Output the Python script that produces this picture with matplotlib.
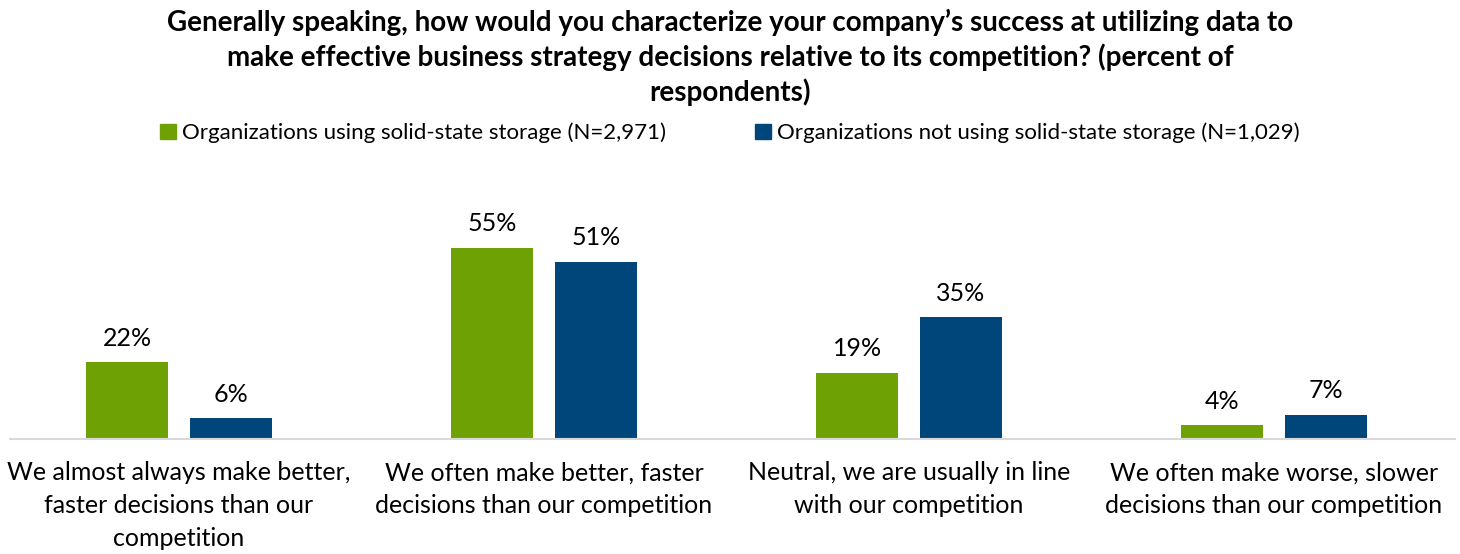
import matplotlib

matplotlib.use("Agg")

import matplotlib.pyplot as plt
import numpy as np
from matplotlib.patches import Patch

plt.rcParams["font.family"] = ["Lato", "DejaVu Sans"]

CATEGORIES = [
    "We almost always make better,\nfaster decisions than our\ncompetition",
    "We often make better, faster\ndecisions than our competition",
    "Neutral, we are usually in line\nwith our competition",
    "We often make worse, slower\ndecisions than our competition",
]
SERIES = [
    "Organizations using solid-state storage (N=2,971)",
    "Organizations not using solid-state storage (N=1,029)",
]
USING = [22, 55, 19, 4]
NOT_USING = [6, 51, 35, 7]

GREEN = "#6ea204"
BLUE = "#00467a"

W, H = 1460, 554
fig = plt.figure(figsize=(W / 100, H / 100), dpi=100)
ax = fig.add_axes([10 / W, (H - 439) / H, 1445 / W, 269 / H])

x = np.arange(len(CATEGORIES))
bw = 0.225
off = 0.142
b1 = ax.bar(x - off, USING, bw, color=GREEN)
b2 = ax.bar(x + off, NOT_USING, bw, color=BLUE)
for bars, vals in ((b1, USING), (b2, NOT_USING)):
    for rect, v in zip(bars, vals):
        ax.annotate(
            f"{v}%",
            xy=(rect.get_x() + rect.get_width() / 2, rect.get_height()),
            xytext=(0, 9),
            textcoords="offset points",
            ha="center",
            va="bottom",
            fontsize=18,
            color="#000000",
        )

ax.set_xlim(-0.463, 3.496)
ax.set_ylim(0, 77.3)
ax.set_yticks([])
ax.set_xticks(x)
ax.set_xticklabels(CATEGORIES, fontsize=18, linespacing=1.52)
ax.tick_params(axis="x", length=0, pad=16)
for s in ("top", "right", "left"):
    ax.spines[s].set_visible(False)
ax.spines["bottom"].set_color("#d9d9d9")
ax.spines["bottom"].set_linewidth(1.5)

fig.text(
    0.5,
    1 - 9 / H,
    "Generally speaking, how would you characterize your company\u2019s success at utilizing data to\n"
    "make effective business strategy decisions relative to its competition? (percent of\n"
    "respondents)",
    ha="center",
    va="top",
    fontsize=20,
    fontweight="bold",
    linespacing=1.33,
)

handles = [Patch(color=GREEN), Patch(color=BLUE)]
fig.legend(
    handles,
    SERIES,
    loc="center",
    bbox_to_anchor=(0.5, 1 - 133 / H),
    ncol=2,
    frameon=False,
    fontsize=16,
    handlelength=0.7,
    handleheight=0.7,
    handletextpad=0.3,
    columnspacing=4,
)

fig.savefig("out.png", dpi=100)
